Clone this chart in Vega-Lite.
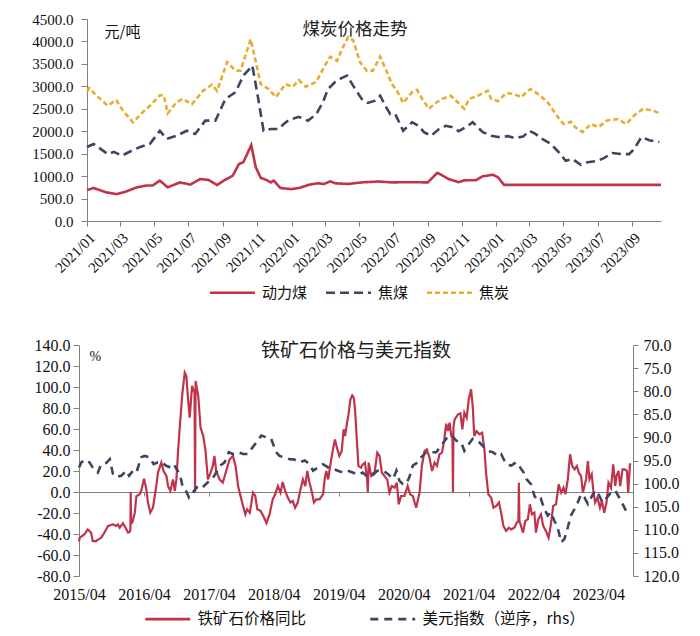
{
  "$schema": "https://vega.github.io/schema/vega-lite/v6.json",
  "padding": {"top": 12, "left": 31, "right": 5, "bottom": 2},
  "spacing": 36,
  "resolve": {"scale": {"color": "independent", "strokeDash": "independent"}, "legend": {"color": "independent", "strokeDash": "independent"}},
  "config": {
    "view": {"stroke": null},
    "font": "Liberation Serif",
    "axis": {"grid": false, "domainColor": "#808080", "tickColor": "#808080", "labelColor": "#111", "labelFont": "Liberation Serif", "labelFontSize": 15, "titleFontWeight": "normal", "titleColor": "#111"},
    "legend": {"labelFont": "Noto Sans CJK SC", "labelFontSize": 15, "labelColor": "#111", "labelLimit": 400}
  },
  "datasets": {
    "coal": [
      {"date": "2021-01-01", "series": "焦炭", "value": 2880},
      {"date": "2021-01-05", "series": "焦炭", "value": 2960},
      {"date": "2021-01-20", "series": "焦炭", "value": 2770},
      {"date": "2021-02-07", "series": "焦炭", "value": 2570},
      {"date": "2021-02-22", "series": "焦炭", "value": 2700},
      {"date": "2021-03-06", "series": "焦炭", "value": 2460},
      {"date": "2021-03-24", "series": "焦炭", "value": 2200},
      {"date": "2021-04-11", "series": "焦炭", "value": 2430},
      {"date": "2021-04-26", "series": "焦炭", "value": 2600},
      {"date": "2021-05-11", "series": "焦炭", "value": 2800},
      {"date": "2021-05-18", "series": "焦炭", "value": 2800},
      {"date": "2021-05-25", "series": "焦炭", "value": 2400},
      {"date": "2021-06-10", "series": "焦炭", "value": 2650},
      {"date": "2021-06-21", "series": "焦炭", "value": 2720},
      {"date": "2021-07-07", "series": "焦炭", "value": 2600},
      {"date": "2021-07-27", "series": "焦炭", "value": 2900},
      {"date": "2021-08-12", "series": "焦炭", "value": 3040},
      {"date": "2021-08-21", "series": "焦炭", "value": 2900},
      {"date": "2021-09-08", "series": "焦炭", "value": 3540},
      {"date": "2021-09-23", "series": "焦炭", "value": 3350},
      {"date": "2021-10-02", "series": "焦炭", "value": 3350},
      {"date": "2021-10-20", "series": "焦炭", "value": 4050},
      {"date": "2021-11-07", "series": "焦炭", "value": 3050},
      {"date": "2021-11-21", "series": "焦炭", "value": 2940},
      {"date": "2021-12-04", "series": "焦炭", "value": 2760},
      {"date": "2021-12-21", "series": "焦炭", "value": 3050},
      {"date": "2022-01-03", "series": "焦炭", "value": 2990},
      {"date": "2022-01-14", "series": "焦炭", "value": 3140},
      {"date": "2022-01-26", "series": "焦炭", "value": 2990},
      {"date": "2022-02-14", "series": "焦炭", "value": 3100},
      {"date": "2022-02-28", "series": "焦炭", "value": 3430},
      {"date": "2022-03-11", "series": "焦炭", "value": 3660},
      {"date": "2022-03-23", "series": "焦炭", "value": 3570},
      {"date": "2022-04-01", "series": "焦炭", "value": 3830},
      {"date": "2022-04-12", "series": "焦炭", "value": 4100},
      {"date": "2022-04-21", "series": "焦炭", "value": 4020},
      {"date": "2022-05-03", "series": "焦炭", "value": 3540},
      {"date": "2022-05-15", "series": "焦炭", "value": 3350},
      {"date": "2022-05-26", "series": "焦炭", "value": 3350},
      {"date": "2022-06-08", "series": "焦炭", "value": 3660},
      {"date": "2022-06-20", "series": "焦炭", "value": 3320},
      {"date": "2022-06-29", "series": "焦炭", "value": 3050},
      {"date": "2022-07-08", "series": "焦炭", "value": 2900},
      {"date": "2022-07-19", "series": "焦炭", "value": 2630},
      {"date": "2022-08-04", "series": "焦炭", "value": 2870},
      {"date": "2022-08-13", "series": "焦炭", "value": 2920},
      {"date": "2022-08-22", "series": "焦炭", "value": 2720},
      {"date": "2022-09-03", "series": "焦炭", "value": 2500},
      {"date": "2022-09-15", "series": "焦炭", "value": 2630},
      {"date": "2022-09-27", "series": "焦炭", "value": 2720},
      {"date": "2022-10-12", "series": "焦炭", "value": 2790},
      {"date": "2022-10-24", "series": "焦炭", "value": 2650},
      {"date": "2022-11-05", "series": "焦炭", "value": 2500},
      {"date": "2022-11-14", "series": "焦炭", "value": 2720},
      {"date": "2022-11-29", "series": "焦炭", "value": 2790},
      {"date": "2022-12-17", "series": "焦炭", "value": 2900},
      {"date": "2022-12-23", "series": "焦炭", "value": 2720},
      {"date": "2023-01-04", "series": "焦炭", "value": 2670},
      {"date": "2023-01-19", "series": "焦炭", "value": 2850},
      {"date": "2023-02-01", "series": "焦炭", "value": 2830},
      {"date": "2023-02-15", "series": "焦炭", "value": 2760},
      {"date": "2023-02-24", "series": "焦炭", "value": 2870},
      {"date": "2023-03-03", "series": "焦炭", "value": 2940},
      {"date": "2023-03-21", "series": "焦炭", "value": 2790},
      {"date": "2023-04-05", "series": "焦炭", "value": 2610},
      {"date": "2023-04-17", "series": "焦炭", "value": 2380},
      {"date": "2023-05-01", "series": "焦炭", "value": 2160},
      {"date": "2023-05-14", "series": "焦炭", "value": 2210},
      {"date": "2023-05-22", "series": "焦炭", "value": 2090},
      {"date": "2023-06-04", "series": "焦炭", "value": 1980},
      {"date": "2023-06-19", "series": "焦炭", "value": 2160},
      {"date": "2023-07-02", "series": "焦炭", "value": 2090},
      {"date": "2023-07-18", "series": "焦炭", "value": 2240},
      {"date": "2023-08-06", "series": "焦炭", "value": 2270},
      {"date": "2023-08-21", "series": "焦炭", "value": 2160},
      {"date": "2023-09-04", "series": "焦炭", "value": 2350},
      {"date": "2023-09-20", "series": "焦炭", "value": 2500},
      {"date": "2023-10-08", "series": "焦炭", "value": 2460},
      {"date": "2023-10-19", "series": "焦炭", "value": 2400},
      {"date": "2021-01-01", "series": "焦煤", "value": 1650},
      {"date": "2021-01-13", "series": "焦煤", "value": 1715},
      {"date": "2021-02-07", "series": "焦煤", "value": 1490},
      {"date": "2021-02-18", "series": "焦煤", "value": 1540},
      {"date": "2021-03-04", "series": "焦煤", "value": 1455},
      {"date": "2021-03-24", "series": "焦煤", "value": 1580},
      {"date": "2021-04-06", "series": "焦煤", "value": 1650},
      {"date": "2021-04-23", "series": "焦煤", "value": 1715},
      {"date": "2021-05-11", "series": "焦煤", "value": 2010},
      {"date": "2021-05-23", "series": "焦煤", "value": 1830},
      {"date": "2021-06-10", "series": "焦煤", "value": 1900},
      {"date": "2021-06-28", "series": "焦煤", "value": 2010},
      {"date": "2021-07-13", "series": "焦煤", "value": 1940},
      {"date": "2021-07-31", "series": "焦煤", "value": 2235},
      {"date": "2021-08-18", "series": "焦煤", "value": 2235},
      {"date": "2021-09-05", "series": "焦煤", "value": 2720},
      {"date": "2021-09-23", "series": "焦煤", "value": 2870},
      {"date": "2021-10-07", "series": "焦煤", "value": 3240},
      {"date": "2021-10-23", "series": "焦煤", "value": 3460},
      {"date": "2021-11-01", "series": "焦煤", "value": 2830},
      {"date": "2021-11-12", "series": "焦煤", "value": 2010},
      {"date": "2021-11-25", "series": "焦煤", "value": 2050},
      {"date": "2021-12-09", "series": "焦煤", "value": 2050},
      {"date": "2021-12-18", "series": "焦煤", "value": 2160},
      {"date": "2021-12-27", "series": "焦煤", "value": 2250},
      {"date": "2022-01-14", "series": "焦煤", "value": 2320},
      {"date": "2022-01-30", "series": "焦煤", "value": 2235},
      {"date": "2022-02-14", "series": "焦煤", "value": 2380},
      {"date": "2022-02-26", "series": "焦煤", "value": 2650},
      {"date": "2022-03-07", "series": "焦煤", "value": 2940},
      {"date": "2022-03-20", "series": "焦煤", "value": 3100},
      {"date": "2022-04-01", "series": "焦煤", "value": 3190},
      {"date": "2022-04-10", "series": "焦煤", "value": 3240},
      {"date": "2022-04-21", "series": "焦煤", "value": 3010},
      {"date": "2022-05-06", "series": "焦煤", "value": 2720},
      {"date": "2022-05-17", "series": "焦煤", "value": 2630},
      {"date": "2022-05-30", "series": "焦煤", "value": 2680},
      {"date": "2022-06-08", "series": "焦煤", "value": 2790},
      {"date": "2022-06-17", "series": "焦煤", "value": 2570},
      {"date": "2022-06-26", "series": "焦煤", "value": 2380},
      {"date": "2022-07-05", "series": "焦煤", "value": 2380},
      {"date": "2022-07-19", "series": "焦煤", "value": 2010},
      {"date": "2022-08-04", "series": "焦煤", "value": 2200},
      {"date": "2022-08-16", "series": "焦煤", "value": 2120},
      {"date": "2022-08-25", "series": "焦煤", "value": 1980},
      {"date": "2022-09-07", "series": "焦煤", "value": 1900},
      {"date": "2022-09-21", "series": "焦煤", "value": 2050},
      {"date": "2022-10-03", "series": "焦煤", "value": 2120},
      {"date": "2022-10-15", "series": "焦煤", "value": 2090},
      {"date": "2022-10-26", "series": "焦煤", "value": 2000},
      {"date": "2022-11-08", "series": "焦煤", "value": 2090},
      {"date": "2022-11-20", "series": "焦煤", "value": 2200},
      {"date": "2022-12-08", "series": "焦煤", "value": 1980},
      {"date": "2022-12-23", "series": "焦煤", "value": 1900},
      {"date": "2023-01-04", "series": "焦煤", "value": 1870},
      {"date": "2023-01-22", "series": "焦煤", "value": 1890},
      {"date": "2023-02-03", "series": "焦煤", "value": 1850},
      {"date": "2023-02-18", "series": "焦煤", "value": 1880},
      {"date": "2023-03-01", "series": "焦煤", "value": 2010},
      {"date": "2023-03-12", "series": "焦煤", "value": 1940},
      {"date": "2023-03-24", "series": "焦煤", "value": 1830},
      {"date": "2023-04-08", "series": "焦煤", "value": 1720},
      {"date": "2023-04-22", "series": "焦煤", "value": 1540},
      {"date": "2023-05-05", "series": "焦煤", "value": 1340},
      {"date": "2023-05-17", "series": "焦煤", "value": 1380},
      {"date": "2023-06-01", "series": "焦煤", "value": 1250},
      {"date": "2023-06-13", "series": "焦煤", "value": 1310},
      {"date": "2023-07-01", "series": "焦煤", "value": 1340},
      {"date": "2023-07-12", "series": "焦煤", "value": 1400},
      {"date": "2023-07-27", "series": "焦煤", "value": 1515},
      {"date": "2023-08-12", "series": "焦煤", "value": 1490},
      {"date": "2023-08-26", "series": "焦煤", "value": 1490},
      {"date": "2023-09-04", "series": "焦煤", "value": 1600},
      {"date": "2023-09-17", "series": "焦煤", "value": 1870},
      {"date": "2023-10-01", "series": "焦煤", "value": 1800},
      {"date": "2023-10-19", "series": "焦煤", "value": 1760},
      {"date": "2021-01-01", "series": "动力煤", "value": 690},
      {"date": "2021-01-13", "series": "动力煤", "value": 735},
      {"date": "2021-02-04", "series": "动力煤", "value": 640},
      {"date": "2021-02-22", "series": "动力煤", "value": 600},
      {"date": "2021-03-10", "series": "动力煤", "value": 650},
      {"date": "2021-03-31", "series": "动力煤", "value": 750},
      {"date": "2021-04-17", "series": "动力煤", "value": 790},
      {"date": "2021-04-28", "series": "动力煤", "value": 790},
      {"date": "2021-05-11", "series": "动力煤", "value": 900},
      {"date": "2021-05-25", "series": "动力煤", "value": 750},
      {"date": "2021-06-16", "series": "动力煤", "value": 860},
      {"date": "2021-07-04", "series": "动力煤", "value": 810},
      {"date": "2021-07-22", "series": "动力煤", "value": 935},
      {"date": "2021-08-06", "series": "动力煤", "value": 915},
      {"date": "2021-08-21", "series": "动力煤", "value": 800},
      {"date": "2021-09-02", "series": "动力煤", "value": 900},
      {"date": "2021-09-18", "series": "动力煤", "value": 1010},
      {"date": "2021-09-29", "series": "动力煤", "value": 1270},
      {"date": "2021-10-07", "series": "动力煤", "value": 1310},
      {"date": "2021-10-21", "series": "动力煤", "value": 1690},
      {"date": "2021-10-29", "series": "动力煤", "value": 1200},
      {"date": "2021-11-07", "series": "动力煤", "value": 960},
      {"date": "2021-11-16", "series": "动力煤", "value": 920},
      {"date": "2021-11-25", "series": "动力煤", "value": 860},
      {"date": "2021-11-30", "series": "动力煤", "value": 900},
      {"date": "2021-12-12", "series": "动力煤", "value": 735},
      {"date": "2021-12-31", "series": "动力煤", "value": 710},
      {"date": "2022-01-14", "series": "动力煤", "value": 735},
      {"date": "2022-02-02", "series": "动力煤", "value": 810},
      {"date": "2022-02-17", "series": "动力煤", "value": 840},
      {"date": "2022-02-28", "series": "动力煤", "value": 825},
      {"date": "2022-03-11", "series": "动力煤", "value": 885},
      {"date": "2022-03-20", "series": "动力煤", "value": 840},
      {"date": "2022-04-12", "series": "动力煤", "value": 825},
      {"date": "2022-05-06", "series": "动力煤", "value": 860},
      {"date": "2022-06-05", "series": "动力煤", "value": 880},
      {"date": "2022-06-29", "series": "动力煤", "value": 860},
      {"date": "2022-07-28", "series": "动力煤", "value": 865},
      {"date": "2022-09-01", "series": "动力煤", "value": 860},
      {"date": "2022-09-18", "series": "动力煤", "value": 1075},
      {"date": "2022-10-08", "series": "动力煤", "value": 935},
      {"date": "2022-10-26", "series": "动力煤", "value": 865},
      {"date": "2022-11-05", "series": "动力煤", "value": 905},
      {"date": "2022-11-26", "series": "动力煤", "value": 910},
      {"date": "2022-12-08", "series": "动力煤", "value": 995},
      {"date": "2022-12-26", "series": "动力煤", "value": 1030},
      {"date": "2023-01-04", "series": "动力煤", "value": 975},
      {"date": "2023-01-15", "series": "动力煤", "value": 805},
      {"date": "2023-10-22", "series": "动力煤", "value": 805}
    ],
    "ore": [
      {"date": "2015-04-01", "series": "铁矿石价格同比", "value": -47},
      {"date": "2015-04-05", "series": "铁矿石价格同比", "value": -43.5},
      {"date": "2015-05-02", "series": "铁矿石价格同比", "value": -40.3},
      {"date": "2015-05-20", "series": "铁矿石价格同比", "value": -35.6},
      {"date": "2015-06-08", "series": "铁矿石价格同比", "value": -38.7},
      {"date": "2015-06-17", "series": "铁矿石价格同比", "value": -46.7},
      {"date": "2015-07-06", "series": "铁矿石价格同比", "value": -46.7},
      {"date": "2015-08-04", "series": "铁矿石价格同比", "value": -43.5},
      {"date": "2015-08-22", "series": "铁矿石价格同比", "value": -38.7},
      {"date": "2015-09-11", "series": "铁矿石价格同比", "value": -32.4},
      {"date": "2015-10-09", "series": "铁矿石价格同比", "value": -30.8},
      {"date": "2015-10-28", "series": "铁矿石价格同比", "value": -32.4},
      {"date": "2015-11-06", "series": "铁矿石价格同比", "value": -30.8},
      {"date": "2015-11-16", "series": "铁矿石价格同比", "value": -34},
      {"date": "2015-12-04", "series": "铁矿石价格同比", "value": -29.8},
      {"date": "2015-12-19", "series": "铁矿石价格同比", "value": -34},
      {"date": "2016-01-02", "series": "铁矿石价格同比", "value": -38.7},
      {"date": "2016-01-11", "series": "铁矿石价格同比", "value": -38},
      {"date": "2016-01-15", "series": "铁矿石价格同比", "value": -36},
      {"date": "2016-01-17", "series": "铁矿石价格同比", "value": 0},
      {"date": "2016-01-19", "series": "铁矿石价格同比", "value": -30},
      {"date": "2016-01-26", "series": "铁矿石价格同比", "value": -29},
      {"date": "2016-02-09", "series": "铁矿石价格同比", "value": -19.7},
      {"date": "2016-02-18", "series": "铁矿石价格同比", "value": -3.8},
      {"date": "2016-03-07", "series": "铁矿石价格同比", "value": -2.2},
      {"date": "2016-03-16", "series": "铁矿石价格同比", "value": 1},
      {"date": "2016-04-01", "series": "铁矿石价格同比", "value": 12.7},
      {"date": "2016-04-14", "series": "铁矿石价格同比", "value": 2.5},
      {"date": "2016-04-23", "series": "铁矿石价格同比", "value": -10},
      {"date": "2016-05-06", "series": "铁矿石价格同比", "value": -19.7},
      {"date": "2016-05-21", "series": "铁矿石价格同比", "value": -15},
      {"date": "2016-06-09", "series": "铁矿石价格同比", "value": 5.7},
      {"date": "2016-06-18", "series": "铁矿石价格同比", "value": 18.4},
      {"date": "2016-07-07", "series": "铁矿石价格同比", "value": 28},
      {"date": "2016-07-20", "series": "铁矿石价格同比", "value": 20},
      {"date": "2016-08-05", "series": "铁矿石价格同比", "value": 15.2},
      {"date": "2016-08-14", "series": "铁矿石价格同比", "value": 5.7},
      {"date": "2016-08-27", "series": "铁矿石价格同比", "value": 1},
      {"date": "2016-09-11", "series": "铁矿石价格同比", "value": 12},
      {"date": "2016-09-21", "series": "铁矿石价格同比", "value": 1},
      {"date": "2016-09-30", "series": "铁矿石价格同比", "value": 12},
      {"date": "2016-10-09", "series": "铁矿石价格同比", "value": 37.5},
      {"date": "2016-10-22", "series": "铁矿石价格同比", "value": 69},
      {"date": "2016-11-03", "series": "铁矿石价格同比", "value": 94.6},
      {"date": "2016-11-16", "series": "铁矿石价格同比", "value": 113.7},
      {"date": "2016-11-25", "series": "铁矿石价格同比", "value": 110.5},
      {"date": "2016-12-05", "series": "铁矿石价格同比", "value": 88},
      {"date": "2016-12-14", "series": "铁矿石价格同比", "value": 70.8},
      {"date": "2016-12-27", "series": "铁矿石价格同比", "value": 101},
      {"date": "2017-01-06", "series": "铁矿石价格同比", "value": 96},
      {"date": "2017-01-10", "series": "铁矿石价格同比", "value": 95},
      {"date": "2017-01-13", "series": "铁矿石价格同比", "value": 0},
      {"date": "2017-01-16", "series": "铁矿石价格同比", "value": 105.7},
      {"date": "2017-01-31", "series": "铁矿石价格同比", "value": 91.4},
      {"date": "2017-02-13", "series": "铁矿石价格同比", "value": 61.3},
      {"date": "2017-02-28", "series": "铁矿石价格同比", "value": 53.3},
      {"date": "2017-03-13", "series": "铁矿石价格同比", "value": 39},
      {"date": "2017-03-26", "series": "铁矿石价格同比", "value": 12},
      {"date": "2017-04-05", "series": "铁矿石价格同比", "value": 15.9},
      {"date": "2017-04-23", "series": "铁矿石价格同比", "value": 24.8},
      {"date": "2017-05-02", "series": "铁矿石价格同比", "value": 34.3},
      {"date": "2017-05-12", "series": "铁矿石价格同比", "value": 20},
      {"date": "2017-05-31", "series": "铁矿石价格同比", "value": 12},
      {"date": "2017-06-18", "series": "铁矿石价格同比", "value": 8.9},
      {"date": "2017-07-07", "series": "铁矿石价格同比", "value": 20},
      {"date": "2017-07-26", "series": "铁矿石价格同比", "value": 31},
      {"date": "2017-08-14", "series": "铁矿石价格同比", "value": 34.3},
      {"date": "2017-08-29", "series": "铁矿石价格同比", "value": 24.8},
      {"date": "2017-09-12", "series": "铁矿石价格同比", "value": 5.7},
      {"date": "2017-09-21", "series": "铁矿石价格同比", "value": -0.6},
      {"date": "2017-10-10", "series": "铁矿石价格同比", "value": -13.3},
      {"date": "2017-10-23", "series": "铁矿石价格同比", "value": -21.3},
      {"date": "2017-11-02", "series": "铁矿石价格同比", "value": -16.5},
      {"date": "2017-11-17", "series": "铁矿石价格同比", "value": -19.7},
      {"date": "2017-12-05", "series": "铁矿石价格同比", "value": -0.6},
      {"date": "2017-12-18", "series": "铁矿石价格同比", "value": -3.8},
      {"date": "2017-12-29", "series": "铁矿石价格同比", "value": -16.5},
      {"date": "2018-01-17", "series": "铁矿石价格同比", "value": -18},
      {"date": "2018-02-04", "series": "铁矿石价格同比", "value": -24},
      {"date": "2018-02-19", "series": "铁矿石价格同比", "value": -29.5},
      {"date": "2018-03-08", "series": "铁矿石价格同比", "value": -21.3},
      {"date": "2018-03-26", "series": "铁矿石价格同比", "value": -7},
      {"date": "2018-04-09", "series": "铁矿石价格同比", "value": -2.2},
      {"date": "2018-04-24", "series": "铁矿石价格同比", "value": 5.7},
      {"date": "2018-05-09", "series": "铁矿石价格同比", "value": -0.6},
      {"date": "2018-05-21", "series": "铁矿石价格同比", "value": 9.5},
      {"date": "2018-06-04", "series": "铁矿石价格同比", "value": 1},
      {"date": "2018-06-19", "series": "铁矿石价格同比", "value": -5.4},
      {"date": "2018-07-04", "series": "铁矿石价格同比", "value": -10},
      {"date": "2018-07-17", "series": "铁矿石价格同比", "value": -8.6},
      {"date": "2018-07-30", "series": "铁矿石价格同比", "value": -15},
      {"date": "2018-08-14", "series": "铁矿石价格同比", "value": -10},
      {"date": "2018-08-29", "series": "铁矿石价格同比", "value": 2.5},
      {"date": "2018-09-12", "series": "铁矿石价格同比", "value": 12},
      {"date": "2018-09-25", "series": "铁矿石价格同比", "value": 5.7},
      {"date": "2018-10-06", "series": "铁矿石价格同比", "value": 20},
      {"date": "2018-10-19", "series": "铁矿石价格同比", "value": 8.9},
      {"date": "2018-11-02", "series": "铁矿石价格同比", "value": -0.6},
      {"date": "2018-11-13", "series": "铁矿石价格同比", "value": -10},
      {"date": "2018-11-26", "series": "铁矿石价格同比", "value": -7},
      {"date": "2018-12-14", "series": "铁矿石价格同比", "value": -7},
      {"date": "2019-01-03", "series": "铁矿石价格同比", "value": -2.2},
      {"date": "2019-01-12", "series": "铁矿石价格同比", "value": 12},
      {"date": "2019-01-21", "series": "铁矿石价格同比", "value": 20},
      {"date": "2019-02-01", "series": "铁矿石价格同比", "value": 12},
      {"date": "2019-02-15", "series": "铁矿石价格同比", "value": 28},
      {"date": "2019-02-28", "series": "铁矿石价格同比", "value": 40.6},
      {"date": "2019-03-11", "series": "铁矿石价格同比", "value": 50},
      {"date": "2019-03-22", "series": "铁矿石价格同比", "value": 42.2},
      {"date": "2019-04-05", "series": "铁矿石价格同比", "value": 34.3},
      {"date": "2019-04-18", "series": "铁矿石价格同比", "value": 39},
      {"date": "2019-04-29", "series": "铁矿石价格同比", "value": 59.7},
      {"date": "2019-05-07", "series": "铁矿石价格同比", "value": 53.3},
      {"date": "2019-05-18", "series": "铁矿石价格同比", "value": 66},
      {"date": "2019-05-25", "series": "铁矿石价格同比", "value": 72.4},
      {"date": "2019-06-06", "series": "铁矿石价格同比", "value": 88},
      {"date": "2019-06-16", "series": "铁矿石价格同比", "value": 92},
      {"date": "2019-06-25", "series": "铁矿石价格同比", "value": 89.8},
      {"date": "2019-07-02", "series": "铁矿石价格同比", "value": 78.7},
      {"date": "2019-07-11", "series": "铁矿石价格同比", "value": 53.3},
      {"date": "2019-07-21", "series": "铁矿石价格同比", "value": 24.8},
      {"date": "2019-08-05", "series": "铁矿石价格同比", "value": 23.2},
      {"date": "2019-08-14", "series": "铁矿石价格同比", "value": 26.3},
      {"date": "2019-08-27", "series": "铁矿石价格同比", "value": 28},
      {"date": "2019-09-08", "series": "铁矿石价格同比", "value": 12},
      {"date": "2019-09-12", "series": "铁矿石价格同比", "value": 0},
      {"date": "2019-09-17", "series": "铁矿石价格同比", "value": 28},
      {"date": "2019-10-01", "series": "铁矿石价格同比", "value": 15.2},
      {"date": "2019-10-19", "series": "铁矿石价格同比", "value": 16.8},
      {"date": "2019-11-04", "series": "铁矿石价格同比", "value": 37.5},
      {"date": "2019-11-17", "series": "铁矿石价格同比", "value": 34.3},
      {"date": "2019-11-30", "series": "铁矿石价格同比", "value": 18.4},
      {"date": "2019-12-15", "series": "铁矿石价格同比", "value": 15.2},
      {"date": "2019-12-30", "series": "铁矿石价格同比", "value": 12},
      {"date": "2020-01-12", "series": "铁矿石价格同比", "value": -0.6},
      {"date": "2020-01-25", "series": "铁矿石价格同比", "value": 5.7},
      {"date": "2020-02-10", "series": "铁矿石价格同比", "value": 4.1},
      {"date": "2020-02-22", "series": "铁矿石价格同比", "value": 8.9},
      {"date": "2020-03-04", "series": "铁矿石价格同比", "value": -11.7},
      {"date": "2020-03-17", "series": "铁矿石价格同比", "value": -3.8},
      {"date": "2020-04-05", "series": "铁矿石价格同比", "value": -3.8},
      {"date": "2020-04-23", "series": "铁矿石价格同比", "value": 5.7},
      {"date": "2020-05-07", "series": "铁矿石价格同比", "value": -2.2},
      {"date": "2020-05-22", "series": "铁矿石价格同比", "value": -3.8},
      {"date": "2020-06-10", "series": "铁矿石价格同比", "value": -15},
      {"date": "2020-06-29", "series": "铁矿石价格同比", "value": -0.6},
      {"date": "2020-07-12", "series": "铁矿石价格同比", "value": 24.8},
      {"date": "2020-07-27", "series": "铁矿石价格同比", "value": 39},
      {"date": "2020-08-09", "series": "铁矿石价格同比", "value": 40.6},
      {"date": "2020-08-24", "series": "铁矿石价格同比", "value": 32.7},
      {"date": "2020-09-07", "series": "铁矿石价格同比", "value": 20},
      {"date": "2020-09-22", "series": "铁矿石价格同比", "value": 28},
      {"date": "2020-10-05", "series": "铁矿石价格同比", "value": 24.8},
      {"date": "2020-10-19", "series": "铁矿石价格同比", "value": 35.9},
      {"date": "2020-11-02", "series": "铁矿石价格同比", "value": 37.5},
      {"date": "2020-11-13", "series": "铁矿石价格同比", "value": 47},
      {"date": "2020-11-26", "series": "铁矿石价格同比", "value": 65},
      {"date": "2020-12-06", "series": "铁矿石价格同比", "value": 58},
      {"date": "2020-12-15", "series": "铁矿石价格同比", "value": 66},
      {"date": "2020-12-24", "series": "铁矿石价格同比", "value": 54},
      {"date": "2020-12-31", "series": "铁矿石价格同比", "value": 55},
      {"date": "2021-01-03", "series": "铁矿石价格同比", "value": 0},
      {"date": "2021-01-06", "series": "铁矿石价格同比", "value": 62},
      {"date": "2021-01-12", "series": "铁矿石价格同比", "value": 69},
      {"date": "2021-02-01", "series": "铁矿石价格同比", "value": 74},
      {"date": "2021-02-14", "series": "铁矿石价格同比", "value": 75},
      {"date": "2021-02-25", "series": "铁矿石价格同比", "value": 59.7},
      {"date": "2021-03-08", "series": "铁矿石价格同比", "value": 75.6},
      {"date": "2021-03-21", "series": "铁矿石价格同比", "value": 70.8},
      {"date": "2021-04-02", "series": "铁矿石价格同比", "value": 88.3},
      {"date": "2021-04-15", "series": "铁矿石价格同比", "value": 97.8},
      {"date": "2021-04-24", "series": "铁矿石价格同比", "value": 82},
      {"date": "2021-05-03", "series": "铁矿石价格同比", "value": 53.3},
      {"date": "2021-05-16", "series": "铁矿石价格同比", "value": 58},
      {"date": "2021-06-01", "series": "铁矿石价格同比", "value": 55},
      {"date": "2021-06-16", "series": "铁矿石价格同比", "value": 56.5},
      {"date": "2021-06-29", "series": "铁矿石价格同比", "value": 40.6},
      {"date": "2021-07-08", "series": "铁矿石价格同比", "value": 18.4},
      {"date": "2021-07-21", "series": "铁矿石价格同比", "value": -2.2},
      {"date": "2021-08-06", "series": "铁矿石价格同比", "value": -5.4},
      {"date": "2021-08-19", "series": "铁矿石价格同比", "value": -15},
      {"date": "2021-09-04", "series": "铁矿石价格同比", "value": -13.3},
      {"date": "2021-09-19", "series": "铁矿石价格同比", "value": -10},
      {"date": "2021-10-01", "series": "铁矿石价格同比", "value": -19.7},
      {"date": "2021-10-14", "series": "铁矿石价格同比", "value": -32.4},
      {"date": "2021-10-29", "series": "铁矿石价格同比", "value": -37.1},
      {"date": "2021-11-14", "series": "铁矿石价格同比", "value": -34},
      {"date": "2021-11-27", "series": "铁矿石价格同比", "value": -35.6},
      {"date": "2021-12-15", "series": "铁矿石价格同比", "value": -34},
      {"date": "2021-12-28", "series": "铁矿石价格同比", "value": -29.2},
      {"date": "2022-01-06", "series": "铁矿石价格同比", "value": -28},
      {"date": "2022-01-09", "series": "铁矿石价格同比", "value": 8.9},
      {"date": "2022-01-12", "series": "铁矿石价格同比", "value": -28},
      {"date": "2022-01-18", "series": "铁矿石价格同比", "value": -30.8},
      {"date": "2022-02-01", "series": "铁矿石价格同比", "value": -38.7},
      {"date": "2022-02-14", "series": "铁矿石价格同比", "value": -27.6},
      {"date": "2022-02-28", "series": "铁矿石价格同比", "value": -26},
      {"date": "2022-03-12", "series": "铁矿石价格同比", "value": -11.7},
      {"date": "2022-03-23", "series": "铁矿石价格同比", "value": -21.3},
      {"date": "2022-04-06", "series": "铁矿石价格同比", "value": -19.7},
      {"date": "2022-04-15", "series": "铁矿石价格同比", "value": -38.7},
      {"date": "2022-04-28", "series": "铁矿石价格同比", "value": -26},
      {"date": "2022-05-13", "series": "铁矿石价格同比", "value": -21.3},
      {"date": "2022-05-26", "series": "铁矿石价格同比", "value": -32.4},
      {"date": "2022-06-10", "series": "铁矿石价格同比", "value": -37.1},
      {"date": "2022-06-25", "series": "铁矿石价格同比", "value": -43.5},
      {"date": "2022-07-08", "series": "铁矿石价格同比", "value": -30.8},
      {"date": "2022-07-21", "series": "铁矿石价格同比", "value": -13.3},
      {"date": "2022-08-06", "series": "铁矿石价格同比", "value": -11.7},
      {"date": "2022-08-21", "series": "铁矿石价格同比", "value": 7.3},
      {"date": "2022-09-04", "series": "铁矿石价格同比", "value": -0.6},
      {"date": "2022-09-17", "series": "铁矿石价格同比", "value": 4.1},
      {"date": "2022-09-28", "series": "铁矿石价格同比", "value": -2.2},
      {"date": "2022-10-11", "series": "铁矿石价格同比", "value": 12},
      {"date": "2022-10-24", "series": "铁矿石价格同比", "value": 35.9},
      {"date": "2022-11-05", "series": "铁矿石价格同比", "value": 24.8},
      {"date": "2022-11-18", "series": "铁矿石价格同比", "value": 21.6},
      {"date": "2022-12-01", "series": "铁矿石价格同比", "value": 24.8},
      {"date": "2022-12-12", "series": "铁矿石价格同比", "value": 18.4},
      {"date": "2022-12-25", "series": "铁矿石价格同比", "value": 15.2},
      {"date": "2023-01-04", "series": "铁矿石价格同比", "value": -0.6},
      {"date": "2023-01-13", "series": "铁矿石价格同比", "value": 5.7},
      {"date": "2023-01-22", "series": "铁矿石价格同比", "value": 12},
      {"date": "2023-02-01", "series": "铁矿石价格同比", "value": 29.5},
      {"date": "2023-02-10", "series": "铁矿石价格同比", "value": 12},
      {"date": "2023-02-23", "series": "铁矿石价格同比", "value": 16.8},
      {"date": "2023-03-03", "series": "铁矿石价格同比", "value": 2.5},
      {"date": "2023-03-14", "series": "铁矿石价格同比", "value": -10},
      {"date": "2023-03-27", "series": "铁矿石价格同比", "value": -5.4},
      {"date": "2023-04-10", "series": "铁矿石价格同比", "value": -15},
      {"date": "2023-04-21", "series": "铁矿石价格同比", "value": -8.6},
      {"date": "2023-05-04", "series": "铁矿石价格同比", "value": -19.7},
      {"date": "2023-05-17", "series": "铁矿石价格同比", "value": -10},
      {"date": "2023-05-28", "series": "铁矿石价格同比", "value": 8.9},
      {"date": "2023-06-11", "series": "铁矿石价格同比", "value": 4.1},
      {"date": "2023-06-24", "series": "铁矿石价格同比", "value": 26.3},
      {"date": "2023-07-05", "series": "铁矿石价格同比", "value": 5.7},
      {"date": "2023-07-12", "series": "铁矿石价格同比", "value": 15.2},
      {"date": "2023-07-23", "series": "铁矿石价格同比", "value": 20},
      {"date": "2023-08-02", "series": "铁矿石价格同比", "value": 5.7},
      {"date": "2023-08-15", "series": "铁矿石价格同比", "value": 21.6},
      {"date": "2023-08-28", "series": "铁矿石价格同比", "value": 21.6},
      {"date": "2023-09-09", "series": "铁矿石价格同比", "value": 20},
      {"date": "2023-09-16", "series": "铁矿石价格同比", "value": -0.6},
      {"date": "2023-09-26", "series": "铁矿石价格同比", "value": 26.3},
      {"date": "2023-10-03", "series": "铁矿石价格同比", "value": 26.3}
    ],
    "usd": [
      {"date": "2015-04-01", "series": "美元指数（逆序，rhs）", "value": 96.5},
      {"date": "2015-04-14", "series": "美元指数（逆序，rhs）", "value": 95.4},
      {"date": "2015-05-08", "series": "美元指数（逆序，rhs）", "value": 94.8},
      {"date": "2015-05-30", "series": "美元指数（逆序，rhs）", "value": 95.4},
      {"date": "2015-06-28", "series": "美元指数（逆序，rhs）", "value": 97.2},
      {"date": "2015-07-16", "series": "美元指数（逆序，rhs）", "value": 97.6},
      {"date": "2015-08-04", "series": "美元指数（逆序，rhs）", "value": 95.8},
      {"date": "2015-09-02", "series": "美元指数（逆序，rhs）", "value": 95.5},
      {"date": "2015-09-21", "series": "美元指数（逆序，rhs）", "value": 94.7},
      {"date": "2015-10-09", "series": "美元指数（逆序，rhs）", "value": 97.9},
      {"date": "2015-10-28", "series": "美元指数（逆序，rhs）", "value": 98.6},
      {"date": "2015-11-25", "series": "美元指数（逆序，rhs）", "value": 98.3},
      {"date": "2015-12-23", "series": "美元指数（逆序，rhs）", "value": 97.2},
      {"date": "2016-01-08", "series": "美元指数（逆序，rhs）", "value": 98.3},
      {"date": "2016-01-30", "series": "美元指数（逆序，rhs）", "value": 97.2},
      {"date": "2016-02-18", "series": "美元指数（逆序，rhs）", "value": 97.6},
      {"date": "2016-03-16", "series": "美元指数（逆序，rhs）", "value": 94.3},
      {"date": "2016-04-05", "series": "美元指数（逆序，rhs）", "value": 94.0},
      {"date": "2016-05-02", "series": "美元指数（逆序，rhs）", "value": 94.3},
      {"date": "2016-05-25", "series": "美元指数（逆序，rhs）", "value": 95.8},
      {"date": "2016-06-18", "series": "美元指数（逆序，rhs）", "value": 95.4},
      {"date": "2016-07-13", "series": "美元指数（逆序，rhs）", "value": 95.4},
      {"date": "2016-08-01", "series": "美元指数（逆序，rhs）", "value": 96.1},
      {"date": "2016-08-27", "series": "美元指数（逆序，rhs）", "value": 96.5},
      {"date": "2016-09-15", "series": "美元指数（逆序，rhs）", "value": 95.8},
      {"date": "2016-09-30", "series": "美元指数（逆序，rhs）", "value": 96.8},
      {"date": "2016-10-19", "series": "美元指数（逆序，rhs）", "value": 97.9},
      {"date": "2016-11-03", "series": "美元指数（逆序，rhs）", "value": 100.4},
      {"date": "2016-11-22", "series": "美元指数（逆序，rhs）", "value": 101.5},
      {"date": "2016-12-10", "series": "美元指数（逆序，rhs）", "value": 103},
      {"date": "2017-01-02", "series": "美元指数（逆序，rhs）", "value": 101.9},
      {"date": "2017-01-21", "series": "美元指数（逆序，rhs）", "value": 100.8},
      {"date": "2017-02-13", "series": "美元指数（逆序，rhs）", "value": 101.2},
      {"date": "2017-03-07", "series": "美元指数（逆序，rhs）", "value": 100.4},
      {"date": "2017-03-26", "series": "美元指数（逆序，rhs）", "value": 99.7},
      {"date": "2017-04-20", "series": "美元指数（逆序，rhs）", "value": 99},
      {"date": "2017-05-12", "series": "美元指数（逆序，rhs）", "value": 97.6},
      {"date": "2017-06-04", "series": "美元指数（逆序，rhs）", "value": 96.1},
      {"date": "2017-06-28", "series": "美元指数（逆序，rhs）", "value": 95.4},
      {"date": "2017-07-22", "series": "美元指数（逆序，rhs）", "value": 93.2},
      {"date": "2017-08-14", "series": "美元指数（逆序，rhs）", "value": 93.6},
      {"date": "2017-09-12", "series": "美元指数（逆序，rhs）", "value": 93.2},
      {"date": "2017-10-10", "series": "美元指数（逆序，rhs）", "value": 93.6},
      {"date": "2017-11-07", "series": "美元指数（逆序，rhs）", "value": 93.6},
      {"date": "2017-11-26", "series": "美元指数（逆序，rhs）", "value": 92.5},
      {"date": "2017-12-24", "series": "美元指数（逆序，rhs）", "value": 91.1},
      {"date": "2018-01-21", "series": "美元指数（逆序，rhs）", "value": 89.6},
      {"date": "2018-02-19", "series": "美元指数（逆序，rhs）", "value": 90},
      {"date": "2018-03-17", "series": "美元指数（逆序，rhs）", "value": 90.3},
      {"date": "2018-04-14", "series": "美元指数（逆序，rhs）", "value": 93.2},
      {"date": "2018-05-03", "series": "美元指数（逆序，rhs）", "value": 94},
      {"date": "2018-05-31", "series": "美元指数（逆序，rhs）", "value": 94.3},
      {"date": "2018-06-28", "series": "美元指数（逆序，rhs）", "value": 94.7},
      {"date": "2018-07-26", "series": "美元指数（逆序，rhs）", "value": 94.8},
      {"date": "2018-08-24", "series": "美元指数（逆序，rhs）", "value": 95.4},
      {"date": "2018-09-22", "series": "美元指数（逆序，rhs）", "value": 95},
      {"date": "2018-10-19", "series": "美元指数（逆序，rhs）", "value": 95.8},
      {"date": "2018-11-08", "series": "美元指数（逆序，rhs）", "value": 97.2},
      {"date": "2018-12-06", "series": "美元指数（逆序，rhs）", "value": 96.5},
      {"date": "2019-01-03", "series": "美元指数（逆序，rhs）", "value": 95.8},
      {"date": "2019-02-01", "series": "美元指数（逆序，rhs）", "value": 96.5},
      {"date": "2019-02-28", "series": "美元指数（逆序，rhs）", "value": 96.8},
      {"date": "2019-03-27", "series": "美元指数（逆序，rhs）", "value": 97.2},
      {"date": "2019-04-24", "series": "美元指数（逆序，rhs）", "value": 97.6},
      {"date": "2019-05-22", "series": "美元指数（逆序，rhs）", "value": 97.2},
      {"date": "2019-06-19", "series": "美元指数（逆序，rhs）", "value": 97.6},
      {"date": "2019-07-17", "series": "美元指数（逆序，rhs）", "value": 98.1},
      {"date": "2019-08-14", "series": "美元指数（逆序，rhs）", "value": 97.6},
      {"date": "2019-09-12", "series": "美元指数（逆序，rhs）", "value": 98.6},
      {"date": "2019-10-10", "series": "美元指数（逆序，rhs）", "value": 97.9},
      {"date": "2019-11-08", "series": "美元指数（逆序，rhs）", "value": 97.2},
      {"date": "2019-12-06", "series": "美元指数（逆序，rhs）", "value": 97.2},
      {"date": "2020-01-03", "series": "美元指数（逆序，rhs）", "value": 97.9},
      {"date": "2020-02-01", "series": "美元指数（逆序，rhs）", "value": 99},
      {"date": "2020-02-20", "series": "美元指数（逆序，rhs）", "value": 97.2},
      {"date": "2020-03-08", "series": "美元指数（逆序，rhs）", "value": 99.4},
      {"date": "2020-03-27", "series": "美元指数（逆序，rhs）", "value": 100.1},
      {"date": "2020-04-15", "series": "美元指数（逆序，rhs）", "value": 100.1},
      {"date": "2020-05-03", "series": "美元指数（逆序，rhs）", "value": 98.6},
      {"date": "2020-05-22", "series": "美元指数（逆序，rhs）", "value": 96.1},
      {"date": "2020-06-19", "series": "美元指数（逆序，rhs）", "value": 95.4},
      {"date": "2020-07-08", "series": "美元指数（逆序，rhs）", "value": 94.3},
      {"date": "2020-08-06", "series": "美元指数（逆序，rhs）", "value": 93.2},
      {"date": "2020-09-03", "series": "美元指数（逆序，rhs）", "value": 93.2},
      {"date": "2020-10-01", "series": "美元指数（逆序，rhs）", "value": 93.2},
      {"date": "2020-10-29", "series": "美元指数（逆序，rhs）", "value": 91.8},
      {"date": "2020-11-26", "series": "美元指数（逆序，rhs）", "value": 90.3},
      {"date": "2020-12-24", "series": "美元指数（逆序，rhs）", "value": 89.5},
      {"date": "2021-01-22", "series": "美元指数（逆序，rhs）", "value": 90.7},
      {"date": "2021-02-19", "series": "美元指数（逆序，rhs）", "value": 91.1},
      {"date": "2021-03-08", "series": "美元指数（逆序，rhs）", "value": 92.9},
      {"date": "2021-03-27", "series": "美元指数（逆序，rhs）", "value": 91.8},
      {"date": "2021-04-24", "series": "美元指数（逆序，rhs）", "value": 90.3},
      {"date": "2021-05-22", "series": "美元指数（逆序，rhs）", "value": 90.7},
      {"date": "2021-06-19", "series": "美元指数（逆序，rhs）", "value": 91.8},
      {"date": "2021-07-17", "series": "美元指数（逆序，rhs）", "value": 92.9},
      {"date": "2021-08-15", "series": "美元指数（逆序，rhs）", "value": 93.2},
      {"date": "2021-09-13", "series": "美元指数（逆序，rhs）", "value": 94},
      {"date": "2021-10-01", "series": "美元指数（逆序，rhs）", "value": 93.6},
      {"date": "2021-10-29", "series": "美元指数（逆序，rhs）", "value": 95.8},
      {"date": "2021-11-27", "series": "美元指数（逆序，rhs）", "value": 96.1},
      {"date": "2021-12-24", "series": "美元指数（逆序，rhs）", "value": 95.4},
      {"date": "2022-01-16", "series": "美元指数（逆序，rhs）", "value": 96.5},
      {"date": "2022-02-05", "series": "美元指数（逆序，rhs）", "value": 97.6},
      {"date": "2022-02-20", "series": "美元指数（逆序，rhs）", "value": 99},
      {"date": "2022-03-18", "series": "美元指数（逆序，rhs）", "value": 100.1},
      {"date": "2022-04-06", "series": "美元指数（逆序，rhs）", "value": 102.6},
      {"date": "2022-04-24", "series": "美元指数（逆序，rhs）", "value": 103.7},
      {"date": "2022-05-13", "series": "美元指数（逆序，rhs）", "value": 103.3},
      {"date": "2022-06-01", "series": "美元指数（逆序，rhs）", "value": 105.5},
      {"date": "2022-06-20", "series": "美元指数（逆序，rhs）", "value": 106.9},
      {"date": "2022-07-08", "series": "美元指数（逆序，rhs）", "value": 106.2},
      {"date": "2022-07-27", "series": "美元指数（逆序，rhs）", "value": 108},
      {"date": "2022-08-15", "series": "美元指数（逆序，rhs）", "value": 109.5},
      {"date": "2022-09-04", "series": "美元指数（逆序，rhs）", "value": 112.7},
      {"date": "2022-09-22", "series": "美元指数（逆序，rhs）", "value": 112},
      {"date": "2022-10-11", "series": "美元指数（逆序，rhs）", "value": 109.5},
      {"date": "2022-10-29", "series": "美元指数（逆序，rhs）", "value": 106.9},
      {"date": "2022-11-18", "series": "美元指数（逆序，rhs）", "value": 105.5},
      {"date": "2022-12-06", "series": "美元指数（逆序，rhs）", "value": 104.1},
      {"date": "2022-12-25", "series": "美元指数（逆序，rhs）", "value": 102.3},
      {"date": "2023-01-13", "series": "美元指数（逆序，rhs）", "value": 103},
      {"date": "2023-02-01", "series": "美元指数（逆序，rhs）", "value": 104.4},
      {"date": "2023-02-20", "series": "美元指数（逆序，rhs）", "value": 103},
      {"date": "2023-03-14", "series": "美元指数（逆序，rhs）", "value": 101.5},
      {"date": "2023-04-06", "series": "美元指数（逆序，rhs）", "value": 102.6},
      {"date": "2023-04-25", "series": "美元指数（逆序，rhs）", "value": 104.1},
      {"date": "2023-05-13", "series": "美元指数（逆序，rhs）", "value": 103.3},
      {"date": "2023-06-11", "series": "美元指数（逆序，rhs）", "value": 101.9},
      {"date": "2023-07-05", "series": "美元指数（逆序，rhs）", "value": 101.5},
      {"date": "2023-07-27", "series": "美元指数（逆序，rhs）", "value": 103},
      {"date": "2023-08-15", "series": "美元指数（逆序，rhs）", "value": 104.4},
      {"date": "2023-09-13", "series": "美元指数（逆序，rhs）", "value": 106.6}
    ]
  },
  "vconcat": [
    {
      "width": 582,
      "height": 202,
      "title": {"text": "煤炭价格走势", "font": "Noto Sans CJK SC", "fontSize": 17.5, "fontWeight": "normal", "color": "#222", "anchor": "middle", "frame": "group", "offset": -26, "dx": -15},
      "data": {"name": "coal"},
      "mark": {"type": "line", "strokeWidth": 2.6},
      "encoding": {
        "x": {
          "field": "date", "type": "temporal",
          "scale": {"domain": [{"year": 2021, "month": 1, "date": 1}, {"year": 2023, "month": 10, "date": 22}], "range": [8, 582]},
          "axis": {"title": null, "format": "%Y/%m", "tickCount": {"interval": "month", "step": 2}, "labelAngle": -45, "tickSize": 5, "labelFlush": false, "labelOverlap": false, "labelPadding": 4}
        },
        "y": {
          "field": "value", "type": "quantitative",
          "scale": {"domain": [0, 4500], "nice": false},
          "axis": {"offset": -8, "values": [0, 500, 1000, 1500, 2000, 2500, 3000, 3500, 4000, 4500], "format": ".1f", "tickSize": 6, "labelPadding": 8,
            "title": "元/吨", "titleAngle": 0, "titleAlign": "left", "titleBaseline": "top", "titleX": 17, "titleY": 5, "titleFont": "Noto Sans CJK SC", "titleFontSize": 15}
        },
        "color": {
          "field": "series", "type": "nominal",
          "scale": {"domain": ["动力煤", "焦煤", "焦炭"], "range": ["#C0344B", "#3C4660", "#E9AC30"]},
          "legend": {"title": null, "orient": "none", "legendX": 146, "legendY": 266, "direction": "horizontal", "symbolType": "M-4,0H4", "symbolSize": 126, "symbolStrokeWidth": 2.6, "labelOffset": 22, "columnPadding": 12}
        },
        "strokeDash": {
          "field": "series", "type": "nominal",
          "scale": {"domain": ["动力煤", "焦煤", "焦炭"], "range": [[1, 0], [9, 5], [5, 3]]},
          "legend": {"title": null, "orient": "none", "legendX": 146, "legendY": 266, "direction": "horizontal", "symbolType": "M-4,0H4", "symbolSize": 126, "symbolStrokeWidth": 2.6, "labelOffset": 22, "columnPadding": 12}
        }
      }
    },
    {
      "width": 554,
      "height": 231,
      "title": {"text": "铁矿石价格与美元指数", "font": "Noto Sans CJK SC", "fontSize": 19, "fontWeight": "normal", "color": "#222", "anchor": "middle", "frame": "group", "offset": -24},
      "layer": [
        {
          "data": {"name": "ore"},
          "mark": {"type": "line", "strokeWidth": 2.2},
          "encoding": {
            "x": {
              "field": "date", "type": "temporal",
              "scale": {"domain": [{"year": 2015, "month": 4, "date": 1}, {"year": 2023, "month": 10, "date": 13}]},
              "axis": {"title": null, "format": "%Y/%m", "domain": false, "ticks": false, "labelPadding": 10, "labelFontSize": 16, "labelFlush": false, "labelOverlap": false,
                "values": [{"year": 2015, "month": 4, "date": 1}, {"year": 2016, "month": 4, "date": 1}, {"year": 2017, "month": 4, "date": 1}, {"year": 2018, "month": 4, "date": 1}, {"year": 2019, "month": 4, "date": 1}, {"year": 2020, "month": 4, "date": 1}, {"year": 2021, "month": 4, "date": 1}, {"year": 2022, "month": 4, "date": 1}, {"year": 2023, "month": 4, "date": 1}]}
            },
            "y": {
              "field": "value", "type": "quantitative",
              "scale": {"domain": [-80, 140], "nice": false},
              "axis": {"values": [-80, -60, -40, -20, 0, 20, 40, 60, 80, 100, 120, 140], "format": ".1f", "labelExpr": "replace(datum.label, '−', '-')", "tickSize": 6, "labelPadding": 3, "labelFontSize": 16,
                "title": "%", "titleAngle": 0, "titleAlign": "left", "titleBaseline": "top", "titleX": 10, "titleY": 4, "titleFont": "Liberation Serif", "titleFontSize": 14}
            },
            "color": {
              "field": "series", "type": "nominal",
              "scale": {"domain": ["铁矿石价格同比", "美元指数（逆序，rhs）"], "range": ["#C0344B", "#3C4660"]},
              "legend": {"title": null, "orient": "none", "legendX": 81, "legendY": 266, "direction": "horizontal", "symbolType": "M-4,0H4", "symbolSize": 126, "symbolStrokeWidth": 2.6, "labelOffset": 22, "labelFontSize": 15.5, "columnPadding": 58}
            },
            "strokeDash": {
              "field": "series", "type": "nominal",
              "scale": {"domain": ["铁矿石价格同比", "美元指数（逆序，rhs）"], "range": [[1, 0], [8, 6]]},
              "legend": {"title": null, "orient": "none", "legendX": 81, "legendY": 266, "direction": "horizontal", "symbolType": "M-4,0H4", "symbolSize": 126, "symbolStrokeWidth": 2.6, "labelOffset": 22, "labelFontSize": 15.5, "columnPadding": 58}
            }
          }
        },
        {
          "data": {"name": "usd"},
          "mark": {"type": "line", "strokeWidth": 2.6},
          "encoding": {
            "x": {
              "field": "date", "type": "temporal",
              "axis": {"title": null, "orient": "bottom", "offset": -84, "labels": false, "domain": true, "ticks": true, "tickSize": 4,
                "values": [{"year": 2015, "month": 4, "date": 1}, {"year": 2016, "month": 4, "date": 1}, {"year": 2017, "month": 4, "date": 1}, {"year": 2018, "month": 4, "date": 1}, {"year": 2019, "month": 4, "date": 1}, {"year": 2020, "month": 4, "date": 1}, {"year": 2021, "month": 4, "date": 1}, {"year": 2022, "month": 4, "date": 1}, {"year": 2023, "month": 4, "date": 1}]}
            },
            "y": {
              "field": "value", "type": "quantitative",
              "scale": {"domain": [70, 120], "nice": false, "zero": false, "reverse": true},
              "axis": {"orient": "right", "title": null, "values": [70, 75, 80, 85, 90, 95, 100, 105, 110, 115, 120], "format": ".1f", "tickSize": 5, "labelPadding": 5, "labelFontSize": 16}
            },
            "color": {"field": "series", "type": "nominal", "scale": {"domain": ["铁矿石价格同比", "美元指数（逆序，rhs）"], "range": ["#C0344B", "#3C4660"]}},
            "strokeDash": {"field": "series", "type": "nominal", "scale": {"domain": ["铁矿石价格同比", "美元指数（逆序，rhs）"], "range": [[1, 0], [8, 6]]}}
          }
        }
      ],
      "resolve": {"scale": {"y": "independent"}, "axis": {"x": "independent"}}
    }
  ]
}
